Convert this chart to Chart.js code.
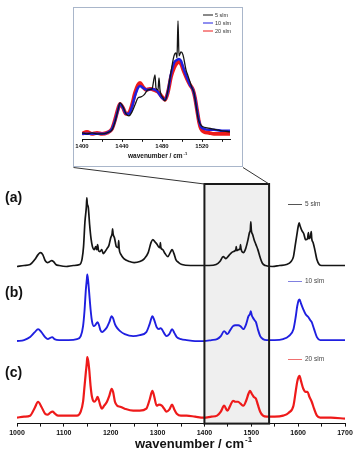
<!DOCTYPE html>
<html>
<head>
<meta charset="utf-8">
<script src="https://cdn.jsdelivr.net/npm/chart.js@4.4.1/dist/chart.umd.min.js"></script>
<style>
  body { margin: 0; background: #fff; }
  #wrap { position: relative; width: 360px; height: 450px; }
  #main { position: absolute; left: 0; top: 0; }
  #inset { position: absolute; left: 73px; top: 7px; }
</style>
</head>
<body>
<div id="wrap">
  <canvas id="main" width="360" height="450"></canvas>
  <canvas id="inset" width="170" height="160"></canvas>
</div>
<script>
// series names
const seriesNames = ['5 slm', '10 slm', '20 slm'];
const panelLabels = ['(a)', '(b)', '(c)'];

// full spectra, [wavenumber, intensity]
const spectrum5 = [[1000,0],[1015,1],[1028,2],[1038,7],[1045,12],[1050,14],[1055,12],[1060,6],[1065,4],[1070,5],[1074,6],[1078,5],[1083,2],[1090,1],[1105,0],[1120,1],[1134,2],[1139,8],[1142,20],[1145,45],[1148,60],[1149,69],[1150,63],[1152,60],[1155,42],[1158,28],[1161,20],[1165,17],[1168,20],[1170,17],[1172,22],[1174,16],[1177,15],[1181,17],[1184,13],[1188,15],[1192,18],[1196,21],[1200,29],[1203,33],[1204,38],[1205,33],[1208,29],[1212,20],[1216,19],[1217,26],[1218,18],[1222,12],[1228,8],[1240,5],[1250,4],[1262,5],[1272,8],[1280,14],[1286,24],[1290,27],[1294,25],[1298,23],[1302,20],[1305,19],[1306,24],[1307,19],[1311,17],[1316,13],[1322,10],[1327,14],[1331,17],[1335,13],[1339,7],[1345,4],[1352,2],[1370,1],[1390,1],[1410,1],[1425,2],[1433,5],[1440,10],[1446,8],[1452,11],[1458,14],[1462,15],[1467,17],[1468,20],[1469,16],[1473,17],[1476,18],[1477,22],[1478,18],[1483,14],[1488,18],[1493,27],[1496,34],[1498,37],[1499,45],[1500,37],[1503,32],[1506,27],[1510,22],[1514,17],[1519,9],[1524,3],[1530,1],[1545,0],[1560,1],[1575,2],[1585,5],[1590,10],[1594,22],[1597,31],[1600,40],[1602,44],[1604,41],[1608,36],[1612,33],[1616,27],[1620,28],[1622,34],[1623,28],[1626,30],[1628,35],[1629,28],[1632,24],[1636,16],[1640,7],[1645,2],[1650,1],[1670,1],[1700,1]];
const spectrum10 = [[1000,0],[1015,1],[1028,4],[1038,9],[1045,12],[1052,9],[1060,4],[1066,2],[1070,3],[1075,4],[1080,2],[1090,1],[1110,1],[1128,2],[1136,5],[1141,15],[1144,30],[1147,52],[1149,62],[1150,67],[1152,60],[1154,49],[1157,32],[1160,20],[1164,15],[1167,16],[1172,19],[1175,16],[1178,11],[1182,9],[1187,11],[1192,14],[1197,19],[1202,25],[1205,23],[1209,17],[1214,13],[1220,10],[1230,7],[1248,5],[1262,6],[1276,9],[1283,17],[1289,25],[1293,21],[1298,14],[1303,12],[1306,13],[1309,12],[1314,8],[1319,5],[1325,7],[1331,12],[1336,8],[1341,4],[1350,2],[1362,1],[1380,0],[1398,0],[1415,1],[1427,2],[1435,5],[1442,10],[1449,7],[1455,11],[1461,15],[1466,16],[1472,16],[1477,15],[1483,12],[1489,17],[1494,25],[1497,27],[1499,30],[1501,26],[1503,24],[1507,21],[1510,19],[1514,12],[1519,5],[1525,2],[1533,1],[1550,1],[1568,2],[1580,5],[1590,12],[1595,25],[1598,35],[1601,41],[1603,42],[1606,38],[1611,32],[1616,27],[1622,24],[1626,21],[1629,19],[1634,12],[1640,4],[1647,1],[1670,1],[1700,1]];
const spectrum20 = [[1000,1],[1015,2],[1028,3],[1038,11],[1045,17],[1052,12],[1060,5],[1066,4],[1071,6],[1076,7],[1081,5],[1088,3],[1110,3],[1128,3],[1136,7],[1141,17],[1144,32],[1147,47],[1149,56],[1150,62],[1152,58],[1154,50],[1157,33],[1160,22],[1165,17],[1169,19],[1172,22],[1175,18],[1178,13],[1181,10],[1186,13],[1192,17],[1197,23],[1202,30],[1205,27],[1209,17],[1214,13],[1220,12],[1230,10],[1248,8],[1262,8],[1276,10],[1283,19],[1289,28],[1293,22],[1298,13],[1303,14],[1309,13],[1314,10],[1319,7],[1325,9],[1331,14],[1336,9],[1341,5],[1350,3],[1362,3],[1380,2],[1398,1],[1415,2],[1427,3],[1435,7],[1442,13],[1449,8],[1455,13],[1461,18],[1466,17],[1472,17],[1477,15],[1483,13],[1489,18],[1494,25],[1497,28],[1501,25],[1505,22],[1510,20],[1514,14],[1519,7],[1525,3],[1533,2],[1550,2],[1568,3],[1580,6],[1590,13],[1595,28],[1598,37],[1601,42],[1603,43],[1606,38],[1611,30],[1616,27],[1620,27],[1624,22],[1629,17],[1634,10],[1640,3],[1647,1],[1670,1],[1700,0]];

// zoomed region 1400-1548
const zoom5 = [[1400,7],[1405,6],[1410,7],[1415,6],[1420,6],[1425,7],[1430,10],[1433,18],[1436,30],[1438,37],[1441,33],[1444,26],[1447,24],[1450,28],[1453,35],[1456,42],[1459,43],[1462,45],[1466,50],[1470,51],[1473,65],[1474,52],[1476,50],[1477,62],[1478,50],[1481,42],[1483,39],[1486,50],[1489,68],[1492,84],[1494,87],[1495,82],[1496,119],[1497,84],[1499,88],[1501,85],[1504,70],[1506,64],[1508,58],[1510,52],[1512,47],[1514,35],[1516,22],[1518,16],[1521,13],[1525,12],[1530,11],[1535,10],[1540,9],[1548,8]];
const zoom10 = [[1400,6],[1410,6],[1420,6],[1425,7],[1430,11],[1433,19],[1436,30],[1438,36],[1441,32],[1444,26],[1447,26],[1450,33],[1453,44],[1456,52],[1458,54],[1461,52],[1465,50],[1470,51],[1475,49],[1480,42],[1483,40],[1486,49],[1489,66],[1492,77],[1495,80],[1497,81],[1499,79],[1502,70],[1505,62],[1508,55],[1511,50],[1513,42],[1515,30],[1517,19],[1519,13],[1522,11],[1527,10],[1532,10],[1540,9],[1548,9]];
const zoom20 = [[1400,6],[1405,8],[1410,6],[1415,7],[1420,6],[1425,7],[1430,11],[1433,20],[1436,31],[1438,36],[1441,32],[1444,26],[1447,27],[1450,35],[1453,47],[1456,55],[1458,57],[1461,53],[1464,50],[1468,51],[1472,50],[1476,48],[1480,43],[1483,40],[1486,48],[1489,63],[1492,72],[1495,77],[1497,78],[1499,76],[1502,68],[1505,61],[1508,55],[1511,50],[1513,42],[1515,30],[1517,18],[1519,11],[1522,8],[1527,7],[1532,6],[1540,6],[1548,6]];

const mainTickValues = [1000,1050,1100,1150,1200,1250,1300,1350,1400,1450,1500,1550,1600,1650,1700];
const insetTickValues = [1400,1420,1440,1460,1480,1500,1520,1540];
const zoomRange = [1400, 1538];

const colors = ['#151515', '#1f1fe0', '#ee1a1a'];
const legendColors = ['#555', '#8080e0', '#f07070'];
const FONT = '"Liberation Sans", Arial, sans-serif';
Chart.defaults.font.family = FONT;

function toXY(pairs) {
    return pairs.map(([x, y]) => ({ x, y }));
}

function drawUnitTitle(ctx, x, y, size) {
    ctx.save();
    ctx.fillStyle = '#111';
    ctx.textBaseline = 'alphabetic';
    ctx.textAlign = 'left';
    ctx.font = `bold ${size}px ${FONT}`;
    const main = 'wavenumber / cm';
    ctx.fillText(main, x, y);
    const w = ctx.measureText(main).width;
    ctx.font = `bold ${Math.round(size * 0.65)}px ${FONT}`;
    ctx.fillText('-1', x + w + 1, y - size * 0.5);
    ctx.restore();
}

// gray box, connector lines, labels and legends
const mainDecor = {
    id: 'mainDecor',
    beforeDatasetsDraw(chart) {
        const { ctx, chartArea } = chart;
        const xs = chart.scales.x;
        const x1 = xs.getPixelForValue(zoomRange[0]);
        const x2 = xs.getPixelForValue(zoomRange[1]);
        ctx.save();
        ctx.fillStyle = '#efefef';
        ctx.fillRect(x1, chartArea.top, x2 - x1, chartArea.bottom - chartArea.top);
        ctx.restore();
    },
    afterDatasetsDraw(chart) {
        const { ctx, chartArea } = chart;
        const xs = chart.scales.x;
        const x1 = xs.getPixelForValue(zoomRange[0]);
        const x2 = xs.getPixelForValue(zoomRange[1]);
        ctx.save();
        ctx.strokeStyle = '#1a1a1a';
        ctx.lineWidth = 2;
        ctx.strokeRect(x1, chartArea.top, x2 - x1, chartArea.bottom - chartArea.top);

        // lines from the inset frame down to the box
        ctx.lineWidth = 1;
        ctx.strokeStyle = '#333';
        ctx.beginPath();
        ctx.moveTo(73.5, 167.5);
        ctx.lineTo(x1, chartArea.top);
        ctx.moveTo(243, 167.5);
        ctx.lineTo(x2, chartArea.top);
        ctx.stroke();

        // (a) (b) (c)
        ctx.fillStyle = '#111';
        ctx.font = `bold 14px ${FONT}`;
        ctx.textBaseline = 'middle';
        const labelY = [198, 293, 373];
        panelLabels.forEach((t, i) => ctx.fillText(t, 5, labelY[i]));

        // per-trace legends
        const legendY = [204.5, 281.5, 359.5];
        ctx.font = `6.5px ${FONT}`;
        seriesNames.forEach((name, i) => {
            ctx.strokeStyle = legendColors[i];
            ctx.beginPath();
            ctx.moveTo(288, legendY[i]);
            ctx.lineTo(302, legendY[i]);
            ctx.stroke();
            ctx.fillStyle = '#444';
            ctx.fillText(name, 305, legendY[i]);
        });

        drawUnitTitle(ctx, 135, 448, 13);
        ctx.restore();
    }
};

const insetDecor = {
    id: 'insetDecor',
    afterDraw(chart) {
        const { ctx } = chart;
        ctx.save();
        ctx.strokeStyle = '#a9b6ca';
        ctx.lineWidth = 1;
        ctx.strokeRect(0.5, 0.5, 169, 159);

        ctx.font = `5.5px ${FONT}`;
        ctx.textBaseline = 'middle';
        const ly = [8, 16, 24];
        seriesNames.forEach((name, i) => {
            ctx.strokeStyle = colors[i];
            ctx.beginPath();
            ctx.moveTo(130, ly[i]);
            ctx.lineTo(140, ly[i]);
            ctx.stroke();
            ctx.fillStyle = '#333';
            ctx.fillText(name, 142, ly[i]);
        });
        drawUnitTitle(ctx, 55, 151, 6.5);
        ctx.restore();
    }
};

new Chart(document.getElementById('main'), {
    type: 'line',
    data: {
        datasets: [
            { label: seriesNames[0], data: toXY(spectrum5), yAxisID: 'ya', borderColor: colors[0], borderWidth: 1.7 },
            { label: seriesNames[1], data: toXY(spectrum10), yAxisID: 'yb', borderColor: colors[1], borderWidth: 1.9 },
            { label: seriesNames[2], data: toXY(spectrum20), yAxisID: 'yc', borderColor: colors[2], borderWidth: 2.2 }
        ]
    },
    options: {
        responsive: false,
        animation: false,
        layout: { padding: { top: 184, left: 17, right: 15, bottom: 11 } },
        elements: { point: { radius: 0 }, line: { cubicInterpolationMode: 'monotone' } },
        plugins: { legend: { display: false }, tooltip: { enabled: false } },
        scales: {
            x: {
                type: 'linear', min: 1000, max: 1700,
                afterBuildTicks: axis => { axis.ticks = mainTickValues.map(value => ({ value })); },
                ticks: {
                    autoSkip: false, maxRotation: 0, padding: 2, color: '#111',
                    font: { size: 7, weight: 'bold' },
                    callback: v => (v % 100 === 0 ? v : '')
                },
                grid: { drawOnChartArea: false, tickLength: 3, color: '#111' },
                border: { color: '#111', width: 1 }
            },
            ya: { display: false, min: -158, max: 83 },
            yb: { display: false, min: -83, max: 158 },
            yc: { display: false, min: -5, max: 236 }
        }
    },
    plugins: [mainDecor]
});

new Chart(document.getElementById('inset'), {
    type: 'line',
    data: {
        datasets: [
            { label: seriesNames[0], data: toXY(zoom5), borderColor: colors[0], borderWidth: 1.3 },
            { label: seriesNames[1], data: toXY(zoom10), borderColor: colors[1], borderWidth: 2.5 },
            { label: seriesNames[2], data: toXY(zoom20), borderColor: colors[2], borderWidth: 3.8 }
        ]
    },
    options: {
        responsive: false,
        animation: false,
        layout: { padding: { top: 5, left: 9, right: 13, bottom: 16 } },
        elements: { point: { radius: 0 }, line: { cubicInterpolationMode: 'monotone' } },
        plugins: { legend: { display: false }, tooltip: { enabled: false } },
        scales: {
            x: {
                type: 'linear', min: 1400, max: 1548,
                afterBuildTicks: axis => { axis.ticks = insetTickValues.map(value => ({ value })); },
                ticks: {
                    autoSkip: false, maxRotation: 0, padding: 1, color: '#111',
                    font: { size: 6, weight: 'bold' },
                    callback: v => ((v - 1400) % 40 === 0 ? v : '')
                },
                grid: { drawOnChartArea: false, tickLength: 2, color: '#111' },
                border: { color: '#111', width: 1 }
            },
            y: { display: false, min: 0, max: 128 }
        }
    },
    plugins: [insetDecor]
});
</script>
</body>
</html>
